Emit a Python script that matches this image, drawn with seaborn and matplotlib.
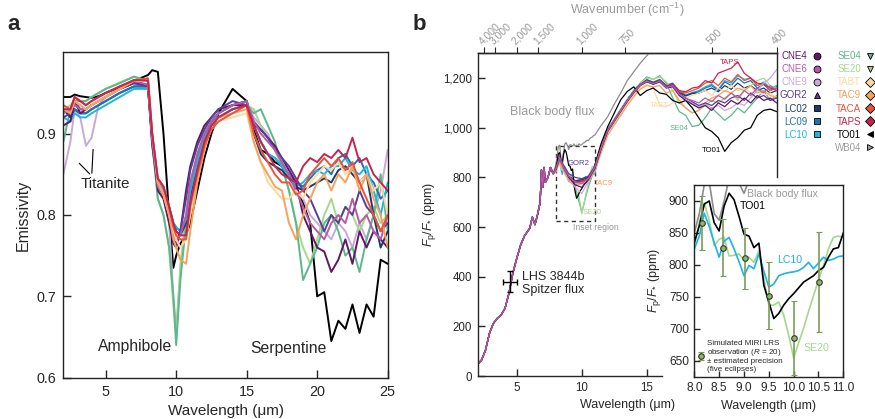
import numpy as np
import pandas as pd
import seaborn as sns
import matplotlib.pyplot as plt
from matplotlib.lines import Line2D
from matplotlib.patches import Rectangle
from matplotlib.ticker import FuncFormatter

# sample names, colours and legend markers
samples = ['CNE4', 'CNE6', 'CNE9', 'GOR2', 'LC02', 'LC09', 'LC10',
           'SE04', 'SE20', 'TABT', 'TAC9', 'TACA', 'TAPS', 'TO01', 'WB04']
colors = ['#5e1865', '#b85aa6', '#c9a9d6', '#5b3f95', '#1b3b6f', '#1d74b5', '#1cb5e3',
          '#5cb88c', '#a5d88c', '#fdd8a0', '#f7a15c', '#e9533b', '#c62450', '#000000', '#9b9b9b']
markers = ['o', 'o', 'o', '^', 's', 's', 's', 'v', 'v', 'D', 'D', 'D', 'D', '<', '>']

# ---- panel a: emissivity spectra ----
wl_a = [2.0, 2.5, 2.8, 3.2, 3.6, 4.0, 4.5, 5.0, 6.0, 7.0,
        8.0, 8.3, 8.7, 9.1, 9.5, 9.8, 10.0, 10.3, 10.7, 11.0,
        11.5, 12.0, 12.5, 13.0, 14.0, 15.0, 15.5, 16.0, 16.5, 17.0,
        17.5, 18.0, 18.5, 19.0, 19.5, 20.0, 20.5, 21.0, 21.5, 22.0,
        22.5, 23.0, 23.5, 24.0, 24.5, 25.0]
emis_cne4 = [0.91, 0.915, 0.94, 0.925, 0.93, 0.935, 0.94, 0.945, 0.955, 0.962,
             0.96, 0.89, 0.83, 0.82, 0.79, 0.765, 0.76, 0.78, 0.83, 0.86,
             0.89, 0.91, 0.92, 0.93, 0.935, 0.935, 0.91, 0.905, 0.895, 0.885,
             0.87, 0.855, 0.84, 0.80, 0.78, 0.76, 0.755, 0.73, 0.745, 0.77,
             0.74, 0.78, 0.76, 0.78, 0.77, 0.76]
emis_cne6 = [0.925, 0.93, 0.935, 0.93, 0.93, 0.935, 0.94, 0.945, 0.955, 0.965,
             0.96, 0.895, 0.835, 0.825, 0.80, 0.775, 0.77, 0.775, 0.80, 0.84,
             0.875, 0.90, 0.915, 0.925, 0.935, 0.94, 0.915, 0.90, 0.89, 0.88,
             0.865, 0.85, 0.83, 0.81, 0.79, 0.78, 0.77, 0.79, 0.80, 0.79,
             0.82, 0.79, 0.80, 0.78, 0.77, 0.80]
emis_cne9 = [0.85, 0.89, 0.93, 0.92, 0.885, 0.895, 0.935, 0.945, 0.955, 0.963,
             0.96, 0.89, 0.83, 0.82, 0.79, 0.70, 0.66, 0.73, 0.79, 0.835,
             0.87, 0.895, 0.91, 0.92, 0.93, 0.935, 0.92, 0.91, 0.90, 0.88,
             0.86, 0.845, 0.83, 0.82, 0.80, 0.79, 0.78, 0.77, 0.79, 0.78,
             0.76, 0.79, 0.77, 0.80, 0.83, 0.88]
emis_gor2 = [0.92, 0.925, 0.94, 0.93, 0.93, 0.935, 0.94, 0.945, 0.955, 0.962,
             0.958, 0.885, 0.835, 0.825, 0.80, 0.77, 0.765, 0.78, 0.82, 0.855,
             0.885, 0.905, 0.92, 0.93, 0.94, 0.935, 0.915, 0.905, 0.895, 0.88,
             0.87, 0.86, 0.845, 0.83, 0.82, 0.80, 0.78, 0.80, 0.79, 0.81,
             0.80, 0.83, 0.81, 0.80, 0.78, 0.79]
emis_lc02 = [0.93, 0.92, 0.93, 0.925, 0.925, 0.93, 0.935, 0.94, 0.95, 0.958,
             0.958, 0.895, 0.84, 0.83, 0.81, 0.79, 0.78, 0.775, 0.79, 0.82,
             0.86, 0.89, 0.915, 0.925, 0.935, 0.94, 0.90, 0.875, 0.865, 0.86,
             0.855, 0.845, 0.835, 0.83, 0.835, 0.84, 0.845, 0.84, 0.855, 0.86,
             0.85, 0.84, 0.85, 0.80, 0.76, 0.78]
emis_lc09 = [0.93, 0.925, 0.93, 0.925, 0.925, 0.93, 0.935, 0.94, 0.95, 0.958,
             0.958, 0.895, 0.84, 0.83, 0.81, 0.79, 0.785, 0.78, 0.795, 0.83,
             0.865, 0.895, 0.915, 0.925, 0.935, 0.94, 0.91, 0.89, 0.875, 0.87,
             0.86, 0.85, 0.84, 0.835, 0.845, 0.855, 0.86, 0.85, 0.87, 0.875,
             0.86, 0.87, 0.85, 0.84, 0.82, 0.83]
emis_lc10 = [0.92, 0.915, 0.925, 0.92, 0.92, 0.925, 0.93, 0.935, 0.945, 0.955,
             0.955, 0.895, 0.84, 0.83, 0.81, 0.79, 0.785, 0.78, 0.795, 0.83,
             0.865, 0.895, 0.91, 0.92, 0.93, 0.935, 0.91, 0.89, 0.875, 0.87,
             0.86, 0.85, 0.835, 0.84, 0.85, 0.855, 0.85, 0.86, 0.86, 0.87,
             0.855, 0.85, 0.86, 0.83, 0.80, 0.84]
emis_se04 = [0.89, 0.93, 0.94, 0.94, 0.94, 0.945, 0.95, 0.955, 0.962, 0.97,
             0.965, 0.89, 0.82, 0.80, 0.76, 0.70, 0.64, 0.72, 0.79, 0.835,
             0.87, 0.895, 0.91, 0.92, 0.93, 0.935, 0.925, 0.93, 0.91, 0.89,
             0.86, 0.83, 0.79, 0.72, 0.74, 0.76, 0.79, 0.80, 0.78, 0.75,
             0.76, 0.73, 0.77, 0.80, 0.85, 0.78]
emis_se20 = [0.93, 0.935, 0.94, 0.94, 0.94, 0.945, 0.95, 0.955, 0.963, 0.97,
             0.965, 0.89, 0.82, 0.80, 0.76, 0.69, 0.65, 0.74, 0.80, 0.84,
             0.875, 0.90, 0.915, 0.92, 0.93, 0.935, 0.93, 0.91, 0.895, 0.88,
             0.86, 0.83, 0.79, 0.76, 0.74, 0.77, 0.80, 0.82, 0.79, 0.81,
             0.80, 0.78, 0.80, 0.81, 0.79, 0.80]
emis_tabt = [0.93, 0.93, 0.94, 0.935, 0.93, 0.935, 0.94, 0.945, 0.955, 0.965,
             0.965, 0.90, 0.84, 0.825, 0.80, 0.78, 0.77, 0.76, 0.77, 0.80,
             0.845, 0.885, 0.905, 0.915, 0.92, 0.925, 0.89, 0.865, 0.84, 0.83,
             0.82, 0.82, 0.83, 0.82, 0.84, 0.85, 0.86, 0.855, 0.865, 0.85,
             0.86, 0.84, 0.85, 0.83, 0.84, 0.80]
emis_tac9 = [0.93, 0.925, 0.94, 0.935, 0.93, 0.935, 0.94, 0.945, 0.955, 0.965,
             0.968, 0.90, 0.84, 0.825, 0.80, 0.77, 0.76, 0.745, 0.74, 0.78,
             0.84, 0.88, 0.91, 0.92, 0.925, 0.93, 0.89, 0.865, 0.85, 0.835,
             0.83, 0.79, 0.77, 0.80, 0.82, 0.84, 0.85, 0.83, 0.85, 0.84,
             0.86, 0.83, 0.85, 0.82, 0.80, 0.76]
emis_taca = [0.935, 0.93, 0.945, 0.94, 0.935, 0.94, 0.945, 0.95, 0.958, 0.965,
             0.968, 0.90, 0.845, 0.835, 0.81, 0.785, 0.775, 0.77, 0.77, 0.81,
             0.85, 0.885, 0.905, 0.915, 0.925, 0.935, 0.90, 0.88, 0.865, 0.85,
             0.84, 0.84, 0.825, 0.83, 0.85, 0.86, 0.87, 0.86, 0.87, 0.855,
             0.865, 0.84, 0.82, 0.80, 0.78, 0.80]
emis_taps = [0.93, 0.93, 0.945, 0.94, 0.935, 0.94, 0.945, 0.95, 0.958, 0.966,
             0.965, 0.90, 0.845, 0.835, 0.81, 0.79, 0.78, 0.775, 0.775, 0.815,
             0.855, 0.89, 0.91, 0.92, 0.93, 0.935, 0.91, 0.89, 0.875, 0.86,
             0.85, 0.845, 0.84, 0.86, 0.87, 0.865, 0.875, 0.87, 0.88, 0.87,
             0.895, 0.865, 0.87, 0.85, 0.84, 0.83]
emis_to01 = [0.945, 0.945, 0.948, 0.946, 0.945, 0.944, 0.946, 0.950, 0.957, 0.965,
             0.972, 0.978, 0.976, 0.90, 0.80, 0.735, 0.75, 0.765, 0.775, 0.79,
             0.83, 0.87, 0.90, 0.925, 0.955, 0.94, 0.905, 0.88, 0.875, 0.865,
             0.86, 0.85, 0.835, 0.815, 0.79, 0.70, 0.705, 0.645, 0.67, 0.66,
             0.69, 0.655, 0.69, 0.675, 0.745, 0.74]

# ---- panel b: planet/star flux ratio ----
wl_short = [2.0, 2.3, 2.6, 2.9, 3.2, 3.5, 3.8, 4.1, 4.4, 4.7, 5.0, 5.3, 5.6,
            5.8, 6.0, 6.2, 6.4, 6.6, 6.8, 6.9, 7.0, 7.1, 7.2, 7.4, 7.6, 7.8]
flux_short = [48, 65, 105, 172, 212, 232, 246, 273, 333, 414, 474, 528, 565,
              580, 595, 640, 610, 650, 700, 830, 760, 840, 780, 800, 840, 815]
wl_mid = [8.0, 8.3, 8.6, 9.0, 9.5, 10.0, 10.5, 11.0]
wl_fine = [8.0, 8.1, 8.2, 8.3, 8.4, 8.5, 8.6, 8.7, 8.8, 8.9, 9.0, 9.1, 9.2, 9.3, 9.4,
           9.5, 9.6, 9.7, 9.8, 9.9, 10.0, 10.1, 10.2, 10.3, 10.4, 10.5, 10.6, 10.7,
           10.8, 10.9, 11.0]
wl_tail = [11.5, 12.0, 12.5, 13.0, 13.5, 14.0, 14.5, 15.0, 15.5, 16.0, 16.5, 17.0,
           17.5, 18.0, 18.5, 19.0, 19.5, 20.0, 20.5, 21.0, 21.5, 22.0, 22.5, 23.0,
           23.5, 24.0, 24.5, 25.0]

flux_cne4 = [830, 878, 840, 800, 770, 760, 790, 835,
             915, 985, 1025, 1065, 1105, 1140, 1170, 1185, 1175, 1185, 1160, 1165,
             1130, 1110, 1095, 1080, 1090, 1070, 1100, 1085, 1110, 1095, 1120, 1100,
             1130, 1110, 1120, 1100]
flux_cne6 = [832, 880, 842, 805, 780, 775, 795, 840,
             920, 988, 1028, 1068, 1108, 1143, 1172, 1188, 1178, 1188, 1162, 1170,
             1135, 1118, 1110, 1100, 1120, 1105, 1130, 1115, 1140, 1120, 1150, 1130,
             1160, 1140, 1170, 1150]
flux_cne9 = [828, 876, 835, 795, 760, 735, 785, 835,
             918, 985, 1025, 1068, 1106, 1142, 1170, 1186, 1176, 1187, 1163, 1168,
             1132, 1112, 1100, 1085, 1095, 1080, 1090, 1070, 1080, 1100, 1090, 1120,
             1150, 1180, 1200, 1235]
flux_gor2 = [835, 882, 850, 815, 800, 795, 805, 845,
             922, 990, 1030, 1070, 1110, 1146, 1174, 1190, 1180, 1190, 1166, 1172,
             1138, 1120, 1105, 1090, 1100, 1090, 1110, 1100, 1120, 1130, 1110, 1140,
             1120, 1130, 1110, 1120]
flux_lc02 = [830, 876, 838, 805, 785, 790, 800, 838,
             925, 992, 1032, 1072, 1112, 1148, 1176, 1192, 1182, 1192, 1168, 1176,
             1142, 1128, 1138, 1140, 1150, 1160, 1145, 1170, 1155, 1180, 1160, 1170,
             1150, 1160, 1140, 1150]
flux_lc09 = [830, 877, 838, 806, 787, 792, 802, 840,
             926, 993, 1033, 1073, 1113, 1149, 1177, 1193, 1183, 1193, 1170, 1178,
             1145, 1130, 1140, 1145, 1160, 1170, 1150, 1185, 1170, 1200, 1180, 1190,
             1160, 1175, 1150, 1165]
flux_lc10 = [825, 845, 881, 860, 835, 812, 837, 843, 825, 805, 783, 799, 794, 817, 790,
             765, 770, 783, 786, 788, 789, 791, 796, 804, 794, 803, 812, 807, 809, 813, 814,
             927, 994, 1034, 1074, 1114, 1150, 1178, 1194, 1184, 1195, 1172, 1180,
             1148, 1132, 1142, 1150, 1165, 1175, 1155, 1190, 1180, 1210, 1195, 1200,
             1170, 1185, 1160, 1170]
flux_se04 = [832, 880, 840, 805, 760, 660, 760, 835,
             925, 990, 1030, 1070, 1110, 1150, 1180, 1205, 1195, 1210, 1180, 1120,
             1065, 1050, 1005, 1010, 1040, 1080, 1055, 1030, 1050, 1080, 1060, 1090,
             1120, 1150, 1110, 1130]
flux_se20 = [830, 866, 897, 870, 830, 840, 843, 814, 815, 817, 807, 812, 804, 822, 778,
             737, 737, 742, 721, 690, 654, 678, 701, 727, 752, 776, 799, 825, 843, 845, 843,
             930, 995, 1035, 1075, 1115, 1150, 1180, 1200, 1195, 1205, 1185, 1150,
             1100, 1080, 1060, 1070, 1090, 1110, 1100, 1120, 1140, 1110, 1150, 1170,
             1190, 1200, 1170, 1160]
flux_tabt = [825, 870, 830, 795, 775, 780, 790, 830,
             905, 975, 1015, 1055, 1095, 1130, 1160, 1175, 1160, 1090, 1085, 1100,
             1110, 1120, 1130, 1140, 1150, 1130, 1160, 1145, 1170, 1150, 1160, 1140,
             1150, 1130, 1140, 1120]
flux_tac9 = [820, 865, 825, 785, 765, 775, 780, 825,
             900, 970, 1010, 1050, 1090, 1125, 1155, 1170, 1165, 1170, 1140, 1150,
             1110, 1080, 1060, 1070, 1100, 1120, 1130, 1150, 1140, 1160, 1150, 1170,
             1140, 1150, 1130, 1120]
flux_taca = [828, 872, 835, 800, 778, 782, 792, 835,
             920, 988, 1028, 1068, 1108, 1144, 1172, 1188, 1178, 1190, 1165, 1175,
             1145, 1140, 1150, 1160, 1180, 1190, 1170, 1200, 1185, 1215, 1190, 1200,
             1170, 1180, 1150, 1160]
flux_taps = [830, 875, 838, 803, 782, 785, 796, 838,
             922, 990, 1030, 1070, 1110, 1146, 1175, 1190, 1180, 1192, 1168, 1176,
             1150, 1145, 1160, 1165, 1190, 1180, 1220, 1230, 1240, 1265, 1220, 1200,
             1180, 1175, 1160, 1150]
flux_to01 = [835, 861, 895, 900, 866, 853, 892, 912, 902, 876, 848, 845, 827, 834, 768,
             742, 716, 724, 737, 747, 755, 764, 773, 778, 783, 791, 796, 812, 825, 827, 850,
             938, 1005, 1059, 1113, 1146, 1165, 1130, 1150, 1160, 1140, 1135, 1110,
             1100, 1110, 1080, 1040, 1000, 985, 960, 905, 940, 960, 990, 1000,
             1050, 1070, 1075, 1065]
wl_bb_tail = [11.5, 12.0, 12.5, 13.0, 13.5, 14.0, 14.5, 15.0, 15.5, 16.0, 16.5]
flux_bb = [850, 880, 925, 930, 880, 870, 900, 935, 940, 928, 912, 932, 930, 925, 935,
           925, 930, 928, 935, 930, 932, 938, 940, 945, 950, 948, 955, 960, 962, 968, 970,
           1010, 1045, 1095, 1140, 1190, 1225, 1260, 1290, 1320, 1345, 1370]

# Spitzer measurement and simulated MIRI points
spitzer_wl = [4.5]
spitzer_flux = [380]
spitzer_xerr = [0.55]
spitzer_yerr = [42]
miri_wl = [8.15, 8.57, 9.02, 9.5, 10.0, 10.52]
miri_flux = [866, 827, 810, 752, 685, 773]
miri_err = [42, 45, 47, 52, 58, 78]

wn_ticks = [4000, 3000, 2000, 1500, 1000, 750, 500, 400]
inset_xlim = (8.0, 11.0)
inset_ylim = (625, 925)

color_map = dict(zip(samples, colors))
marker_map = dict(zip(samples, markers))
bb_color = '#8c8c8c'
grey_text = '#9a9a9a'

emis_series = {'CNE4': emis_cne4, 'CNE6': emis_cne6, 'CNE9': emis_cne9, 'GOR2': emis_gor2,
               'LC02': emis_lc02, 'LC09': emis_lc09, 'LC10': emis_lc10, 'SE04': emis_se04,
               'SE20': emis_se20, 'TABT': emis_tabt, 'TAC9': emis_tac9, 'TACA': emis_taca,
               'TAPS': emis_taps, 'TO01': emis_to01}
df_a = pd.concat([pd.DataFrame({'wl': wl_a, 'val': v, 'sample': k})
                  for k, v in emis_series.items()], ignore_index=True)

coarse = {'CNE4': flux_cne4, 'CNE6': flux_cne6, 'CNE9': flux_cne9, 'GOR2': flux_gor2,
          'LC02': flux_lc02, 'LC09': flux_lc09, 'SE04': flux_se04, 'TABT': flux_tabt,
          'TAC9': flux_tac9, 'TACA': flux_taca, 'TAPS': flux_taps}
fine = {'LC10': flux_lc10, 'SE20': flux_se20, 'TO01': flux_to01}
frames = []
frames.append(pd.DataFrame({'wl': wl_short + wl_fine + wl_bb_tail,
                            'val': flux_short + flux_bb, 'sample': 'Black body'}))
for k, v in coarse.items():
    frames.append(pd.DataFrame({'wl': wl_short + wl_mid + wl_tail,
                                'val': flux_short + v, 'sample': k}))
for k, v in fine.items():
    frames.append(pd.DataFrame({'wl': wl_short + wl_fine + wl_tail,
                                'val': flux_short + v, 'sample': k}))
df_b = pd.concat(frames, ignore_index=True)

sns.set_style('ticks')
plt.rcParams['font.family'] = ['Liberation Sans', 'DejaVu Sans']
plt.rcParams['mathtext.fontset'] = 'custom'
plt.rcParams['mathtext.rm'] = 'Liberation Sans'
plt.rcParams['mathtext.it'] = 'Liberation Sans:italic'
plt.rcParams['axes.linewidth'] = 1.0

fig = plt.figure(figsize=(8.75, 4.19), dpi=100)
ax_a = fig.add_axes([0.0724, 0.0986, 0.3707, 0.7766])
ax_b = fig.add_axes([0.546, 0.1026, 0.3417, 0.7702])
ax_in = fig.add_axes([0.7935, 0.101, 0.1703, 0.4575], zorder=3)

pal = dict(color_map)
pal['Black body'] = bb_color

# ---------- panel a ----------
order_a = ['TO01', 'CNE9', 'SE20', 'SE04', 'LC02', 'LC09', 'LC10', 'CNE4', 'GOR2',
           'CNE6', 'TABT', 'TAC9', 'TACA', 'TAPS']
sns.lineplot(data=df_a, x='wl', y='val', hue='sample', hue_order=order_a, palette=pal,
             lw=1.4, estimator=None, legend=False, ax=ax_a)
ax_a.set_xlim(2, 25)
ax_a.set_ylim(0.6, 1.0)
ax_a.set_xticks([5, 10, 15, 20, 25])
ax_a.set_yticks([0.6, 0.7, 0.8, 0.9])
ax_a.tick_params(direction='in', length=6, width=1, labelsize=10.4, pad=5)
ax_a.set_xlabel('Wavelength (μm)', fontsize=11)
ax_a.set_ylabel('Emissivity', fontsize=11.5)
for s in ax_a.spines.values():
    s.set_color('#222222')

ax_a.text(3.2, 0.838, 'Titanite', fontsize=11, va='center')
ax_a.annotate('', xy=(4.12, 0.884), xytext=(4.01, 0.848),
              arrowprops=dict(arrowstyle='-', color='black', lw=0.8))
ax_a.annotate('', xy=(2.99, 0.866), xytext=(4.01, 0.848),
              arrowprops=dict(arrowstyle='-', color='black', lw=0.8))
ax_a.text(9.7, 0.638, 'Amphibole', fontsize=11.3, ha='right', va='center')
ax_a.text(20.65, 0.636, 'Serpentine', fontsize=11.3, ha='right', va='center')

# ---------- panel b ----------
order_b = ['Black body', 'LC10', 'LC09', 'LC02', 'SE04', 'SE20', 'TABT', 'TAC9', 'TACA',
           'TAPS', 'TO01', 'CNE9', 'GOR2', 'CNE4', 'CNE6']
sns.lineplot(data=df_b, x='wl', y='val', hue='sample', hue_order=order_b, palette=pal,
             lw=0.9, estimator=None, legend=False, ax=ax_b)
ax_b.set_xlim(2, 25)
ax_b.set_ylim(0, 1300)
ax_b.set_xticks([5, 10, 15])
ax_b.set_yticks([0, 200, 400, 600, 800, 1000, 1200])
ax_b.yaxis.set_major_formatter(FuncFormatter(lambda v, p: f'{v:,.0f}'))
ax_b.tick_params(direction='in', length=5, width=1, labelsize=8.3, pad=4)
ax_b.spines['bottom'].set_bounds(2, 16.15)
ax_b.spines['right'].set_bounds(800, 1300)
ax_b.set_xlabel('Wavelength (μm)', fontsize=9)
ax_b.set_ylabel(r'$F_{\mathrm{p}}/F_{*}$ (ppm)', fontsize=9)

ax_b.errorbar(spitzer_wl, spitzer_flux, xerr=spitzer_xerr, yerr=spitzer_yerr,
              fmt='none', ecolor='black', elinewidth=1, capsize=2)
ax_b.text(5.38, 422, 'LHS 3844b\nSpitzer flux', fontsize=9, va='top', linespacing=1.1)
ax_b.text(4.48, 1065, 'Black body flux', fontsize=9, color=grey_text, va='center')

curve_labels = [('TAPS', 20.6, 1262), ('TABT', 15.2, 1088), ('SE04', 16.75, 998),
                ('TO01', 19.2, 908), ('GOR2', 8.9, 857), ('TAC9', 10.9, 774),
                ('SE20', 10.1, 660)]
for name, x, y in curve_labels:
    ax_b.text(x, y, name, fontsize=5.6, color=color_map[name], va='center')
ax_b.text(9.3, 598, 'Inset region', fontsize=6.3, color=grey_text, va='center')
ax_b.add_patch(Rectangle((inset_xlim[0], inset_ylim[0]), inset_xlim[1] - inset_xlim[0],
                         inset_ylim[1] - inset_ylim[0], fill=False, ec='#333333',
                         lw=1, ls=(0, (3, 2.5))))


def to_wn(x):
    x = np.asarray(x, dtype=float)
    with np.errstate(divide='ignore'):
        return 1e4 / x


top = ax_b.secondary_xaxis('top', functions=(to_wn, to_wn))
top.set_xticks(wn_ticks)
top.set_xticklabels([f'{w:,}' for w in wn_ticks])
top.tick_params(axis='x', direction='out', length=4, width=0.8, labelsize=7.4,
                labelcolor=grey_text, pad=1)
for lab in top.get_xticklabels():
    lab.set_rotation(45)
    lab.set_ha('left')
    lab.set_va('bottom')
    lab.set_rotation_mode('anchor')
top.set_xlabel('Wavenumber (cm$^{-1}$)', fontsize=9, color=grey_text, labelpad=5)


def sample_handle(name):
    return Line2D([], [], ls='none', marker=marker_map[name], ms=5,
                  mfc=color_map[name], mec='black', mew=0.6)


col1 = samples[:7]
col2 = samples[7:]
for cols, x0 in [(col1, 0.8914), (col2, 0.954)]:
    fig.legend([sample_handle(s) for s in cols], cols, loc='upper left',
               bbox_to_anchor=(x0, 0.878), frameon=False, markerfirst=False,
               fontsize=7, handlelength=0.9, handletextpad=0.5, labelspacing=0.32,
               borderaxespad=0, borderpad=0,
               labelcolor=[color_map[s] for s in cols])

# ---------- inset ----------
ax_in.set_facecolor('white')
df_in = df_b[df_b['sample'].isin(['Black body', 'SE20', 'LC10', 'TO01'])]
sns.lineplot(data=df_in, x='wl', y='val', hue='sample',
             hue_order=['Black body', 'SE20', 'LC10', 'TO01'], palette=pal,
             lw=1.2, estimator=None, legend=False, ax=ax_in)
eb = ax_in.errorbar(miri_wl, miri_flux, yerr=miri_err, fmt='o', ms=4, mfc='#8fb56e',
                    mec='#2f3a26', mew=0.8, ecolor='#7d9c5c', elinewidth=1.2, capsize=2)
ax_in.set_xlim(*inset_xlim)
ax_in.set_ylim(*inset_ylim)
ax_in.set_xticks([8.0, 8.5, 9.0, 9.5, 10.0, 10.5, 11.0])
ax_in.xaxis.set_major_formatter(FuncFormatter(lambda v, p: f'{v:.1f}'))
ax_in.set_yticks([650, 700, 750, 800, 850, 900])
ax_in.tick_params(direction='in', length=4, width=1, labelsize=8.6, pad=4)
ax_in.set_xlabel('Wavelength (μm)', fontsize=9)
ax_in.set_ylabel(r'$F_{\mathrm{p}}/F_{*}$ (ppm)', fontsize=9)
for s in ax_in.spines.values():
    s.set_visible(True)
    s.set_color('#222222')

ax_in.text(9.07, 911, 'Black body flux', fontsize=7.6, color=grey_text, va='center')
ax_in.text(8.92, 892, 'TO01', fontsize=7.6, color='black', va='center')
ax_in.text(9.66, 808, 'LC10', fontsize=7.6, color=color_map['LC10'], va='center')
ax_in.text(10.2, 670, 'SE20', fontsize=7.6, color=color_map['SE20'], va='center')
leg = ax_in.legend([eb], ['Simulated MIRI LRS\nobservation ($R$ = 20)\n'
                          '± estimated precision\n(five eclipses)'],
                   loc='lower left', frameon=False, fontsize=5.8, handlelength=0.7,
                   handletextpad=0.4, borderaxespad=0.3, borderpad=0.2)
for t in leg.get_texts():
    t.set_linespacing(1.05)

fig.text(0.009, 0.928, 'a', fontsize=16, fontweight='bold')
fig.text(0.471, 0.928, 'b', fontsize=16, fontweight='bold')

fig.savefig('out.png', dpi=100)
